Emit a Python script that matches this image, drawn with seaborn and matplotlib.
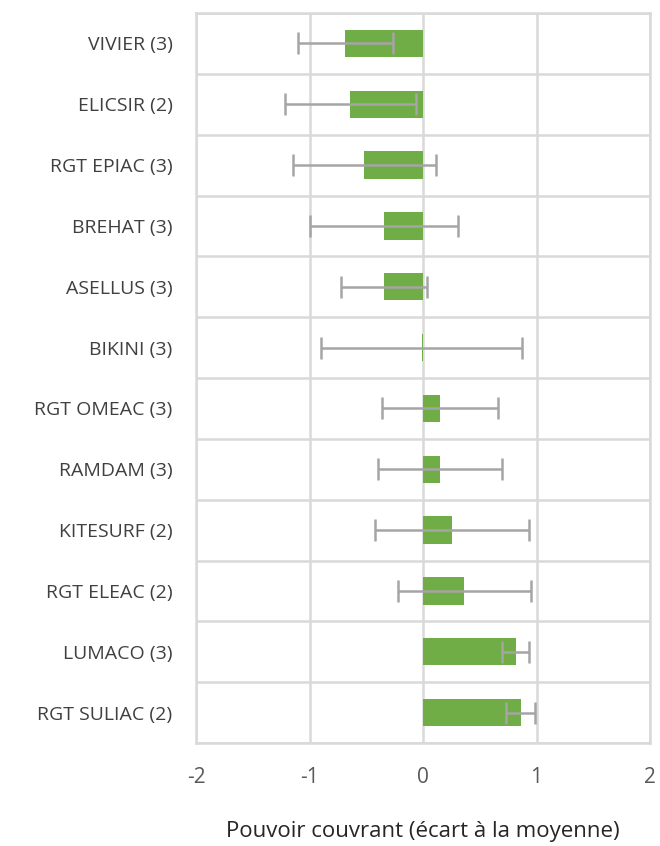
import numpy as np
import pandas as pd
import matplotlib
matplotlib.use("Agg")
import matplotlib.pyplot as plt
import seaborn as sns
from matplotlib.ticker import FixedLocator

# values
categories = ["VIVIER (3)", "ELICSIR (2)", "RGT EPIAC (3)", "BREHAT (3)", "ASELLUS (3)",
              "BIKINI (3)", "RGT OMEAC (3)", "RAMDAM (3)", "KITESURF (2)",
              "RGT ELEAC (2)", "LUMACO (3)", "RGT SULIAC (2)"]
means = [-0.685, -0.64, -0.517, -0.346, -0.346, -0.01, 0.15, 0.15, 0.253, 0.364, 0.817, 0.861]
errors = [0.42, 0.58, 0.63, 0.65, 0.38, 0.885, 0.51, 0.55, 0.68, 0.585, 0.12, 0.13]

df = pd.DataFrame({"cat": categories, "mean": means, "err": errors})

sns.set_style("white")
plt.rcParams["font.family"] = ["Open Sans", "DejaVu Sans"]
plt.rcParams["axes.unicode_minus"] = False

fig = plt.figure(figsize=(6.6, 8.46), dpi=100)
ax = fig.add_axes([196 / 660, 1 - 743 / 846, (650 - 196) / 660, (743 - 13) / 846])

grid_col = "#d9d9d9"
sns.barplot(data=df, x="mean", y="cat", orient="h", color="#70ad47", width=0.45,
            saturation=1, ax=ax, zorder=2, linewidth=0)
ypos = np.arange(len(categories))
ax.errorbar(df["mean"], ypos, xerr=df["err"], fmt="none", ecolor="#a5a5a5",
            elinewidth=1.8, capsize=8, capthick=1.8, zorder=3)

ax.set_xlim(-2, 2)
ax.set_ylim(len(categories) - 0.5, -0.5)
ax.set_xticks([-2, -1, 0, 1, 2])
ax.yaxis.set_minor_locator(FixedLocator(np.arange(-0.5, len(categories), 1)))
ax.grid(axis="x", which="major", color=grid_col, linewidth=1.8, zorder=0)
ax.grid(axis="y", which="minor", color=grid_col, linewidth=1.8, zorder=0)
ax.set_axisbelow(True)
for sp in ax.spines.values():
    sp.set_visible(True)
    sp.set_color(grid_col)
    sp.set_linewidth(1.8)

ax.tick_params(axis="x", which="both", length=0, pad=17, labelsize=15, labelcolor="#595959")
ax.tick_params(axis="y", which="both", length=0, pad=17, labelsize=14, labelcolor="#404040")
ax.set_ylabel("")
ax.set_xlabel("Pouvoir couvrant (écart à la moyenne)", fontsize=16, color="#262626", labelpad=24)

fig.savefig("out.png", dpi=100)
